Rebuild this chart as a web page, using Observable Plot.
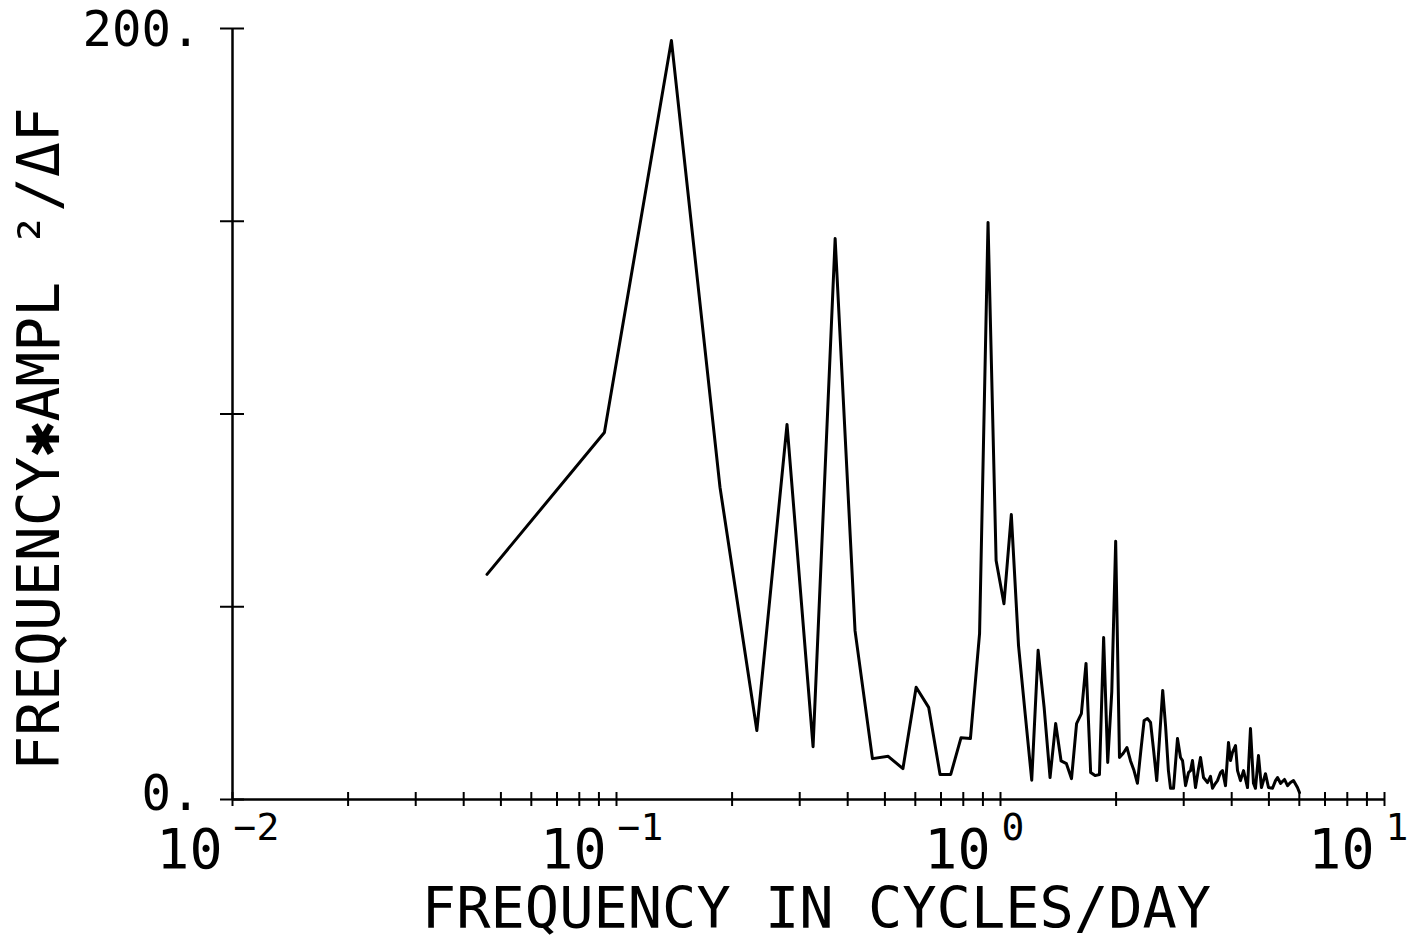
<!DOCTYPE html>
<html>
<head>
<meta charset="utf-8">
<script src="https://cdn.jsdelivr.net/npm/d3@7"></script>
<script src="https://cdn.jsdelivr.net/npm/@observablehq/plot@0.6"></script>
<style>
  html, body { margin: 0; padding: 0; background: #fff; }
</style>
</head>
<body>
<div id="chart"></div>
<script>
// Frequency (cycles/day)
const frequency = [
  0.046, 0.093, 0.139, 0.186, 0.232, 0.278, 0.325, 0.371, 0.418, 0.464,
  0.510, 0.557, 0.603, 0.650, 0.696, 0.742, 0.789, 0.835, 0.882, 0.928,
  0.974, 1.021, 1.067, 1.114, 1.160, 1.206, 1.253, 1.299, 1.346, 1.392,
  1.438, 1.485, 1.531, 1.578, 1.624, 1.670, 1.717, 1.763, 1.810, 1.856,
  1.902, 1.949, 1.995, 2.041, 2.088, 2.134, 2.181, 2.227, 2.273, 2.320,
  2.366, 2.413, 2.459, 2.505, 2.552, 2.598, 2.645, 2.691, 2.737,
  2.772, 2.822, 2.890, 2.943, 2.979, 3.033, 3.088, 3.125, 3.162, 3.220,
  3.278, 3.318, 3.378, 3.460, 3.523, 3.565, 3.630, 3.673, 3.741, 3.785,
  3.854, 3.924, 3.972, 4.019, 4.093, 4.142, 4.217, 4.294, 4.398, 4.477,
  4.558, 4.613, 4.697, 4.782, 4.898, 4.988, 5.109, 5.202, 5.265, 5.361,
  5.490, 5.590, 5.690, 5.794, 5.934, 6.006
];
// Frequency * amplitude^2 / dF
const power = [
  58.4, 95.2, 196.9, 81.0, 17.9, 97.3, 13.7, 145.5, 43.8, 10.6,
  11.2, 8.0, 29.1, 23.9, 6.5, 6.5, 16.0, 15.8, 43.0, 149.7,
  62.0, 50.8, 73.9, 40.0, 22.0, 5.0, 38.7, 23.9, 5.7, 19.7,
  10.0, 9.3, 5.4, 19.7, 22.3, 35.3, 7.0, 6.2, 6.5, 42.0,
  9.6, 28.0, 67.0, 10.9, 12.0, 13.5, 10.0, 7.5, 4.2, 12.7,
  20.5, 21.0, 20.0, 12.7, 4.9, 16.6, 28.3, 19.0, 7.5,
  2.9, 2.9, 15.8, 10.9, 10.1, 3.6, 7.0, 7.5, 10.1, 3.1,
  8.0, 10.9, 5.7, 4.4, 6.0, 2.9, 4.2, 4.9, 7.0, 7.5,
  3.6, 14.8, 10.1, 12.2, 14.0, 7.5, 4.9, 7.5, 3.1, 18.4,
  4.2, 2.9, 11.4, 3.1, 6.7, 3.1, 2.9, 4.9, 5.7, 4.2,
  5.2, 3.6, 4.4, 4.9, 3.1, 1.8
];

const xDecades = [0.01, 0.1, 1, 10];
const xExponents = ["\u22122", "\u22121", "0", "1"];
const xMinorTicks = [0.02, 0.03, 0.04, 0.05, 0.06, 0.07, 0.08, 0.09,
                     0.2, 0.3, 0.4, 0.5, 0.6, 0.7, 0.8, 0.9,
                     2, 3, 4, 5, 6, 7, 8, 9];
const yTicks = [0, 50, 100, 150, 200];
const yLabels = [0, 200];
const xTitle = "FREQUENCY IN CYCLES/DAY";
const yTitle = "FREQUENCY\u2731AMPL \u00B2/\u0394F";

const rows = frequency.map((f, i) => ({f, p: power[i]}));
const xMin = xDecades[0], xMax = xDecades[xDecades.length - 1];
const yLabelStyle = {x: xMin, y: d => d, text: d => d + ".", textAnchor: "end", lineAnchor: "middle", dx: -32, fontSize: 49, fill: "#000"};

const chart = Plot.plot({
  width: 1413,
  height: 942,
  marginLeft: 232,
  marginRight: 29,
  marginTop: 28,
  marginBottom: 143,
  x: {type: "log", domain: [xMin, xMax], axis: null},
  y: {domain: [0, 200], axis: null},
  style: {fontFamily: "'DejaVu Sans Mono', monospace", background: "#fff", color: "#000", overflow: "visible"},
  marks: [
    // axes lines
    Plot.ruleY([0], {stroke: "#000", strokeWidth: 2.5}),
    Plot.ruleX([xMin], {stroke: "#000", strokeWidth: 2.5}),
    // x ticks crossing the axis
    Plot.ruleX(xMinorTicks.concat(xDecades), {x: d => d, y1: 0, y2: 0, insetTop: -7, insetBottom: -7, stroke: "#000", strokeWidth: 2}),
    // y ticks crossing the axis
    Plot.ruleY(yTicks, {y: d => d, x1: xMin, x2: xMin, insetLeft: -12, insetRight: -12, stroke: "#000", strokeWidth: 2}),
    // data
    Plot.line(rows, {x: "f", y: "p", stroke: "#000", strokeWidth: 3, strokeLinejoin: "round"}),
    // y tick labels
    Plot.text(yLabels.filter(v => v !== 0), {...yLabelStyle, dy: 2}),
    Plot.text(yLabels.filter(v => v === 0), {...yLabelStyle, dy: -5}),
    // x tick labels: base and exponent
    Plot.text(xDecades, {x: d => d, y: 0, text: () => "10", textAnchor: "end", lineAnchor: "middle", dx: -10, dy: 51, fontSize: 55, fill: "#000"}),
    Plot.text(xDecades, {x: d => d, y: 0, text: (d, i) => xExponents[i], textAnchor: "start", lineAnchor: "middle", dx: 1, dy: 28, fontSize: 38, fill: "#000"}),
    // axis titles
    Plot.text([xTitle], {frameAnchor: "bottom", textAnchor: "middle", lineAnchor: "middle", text: d => d, dx: 8, dy: 110, fontSize: 57, fill: "#000"}),
    Plot.text([yTitle], {frameAnchor: "left", textAnchor: "middle", lineAnchor: "middle", text: d => d, rotate: -90, dx: -192, dy: 25, fontSize: 58, fill: "#000"})
  ]
});
document.getElementById("chart").appendChild(chart);
</script>
</body>
</html>
